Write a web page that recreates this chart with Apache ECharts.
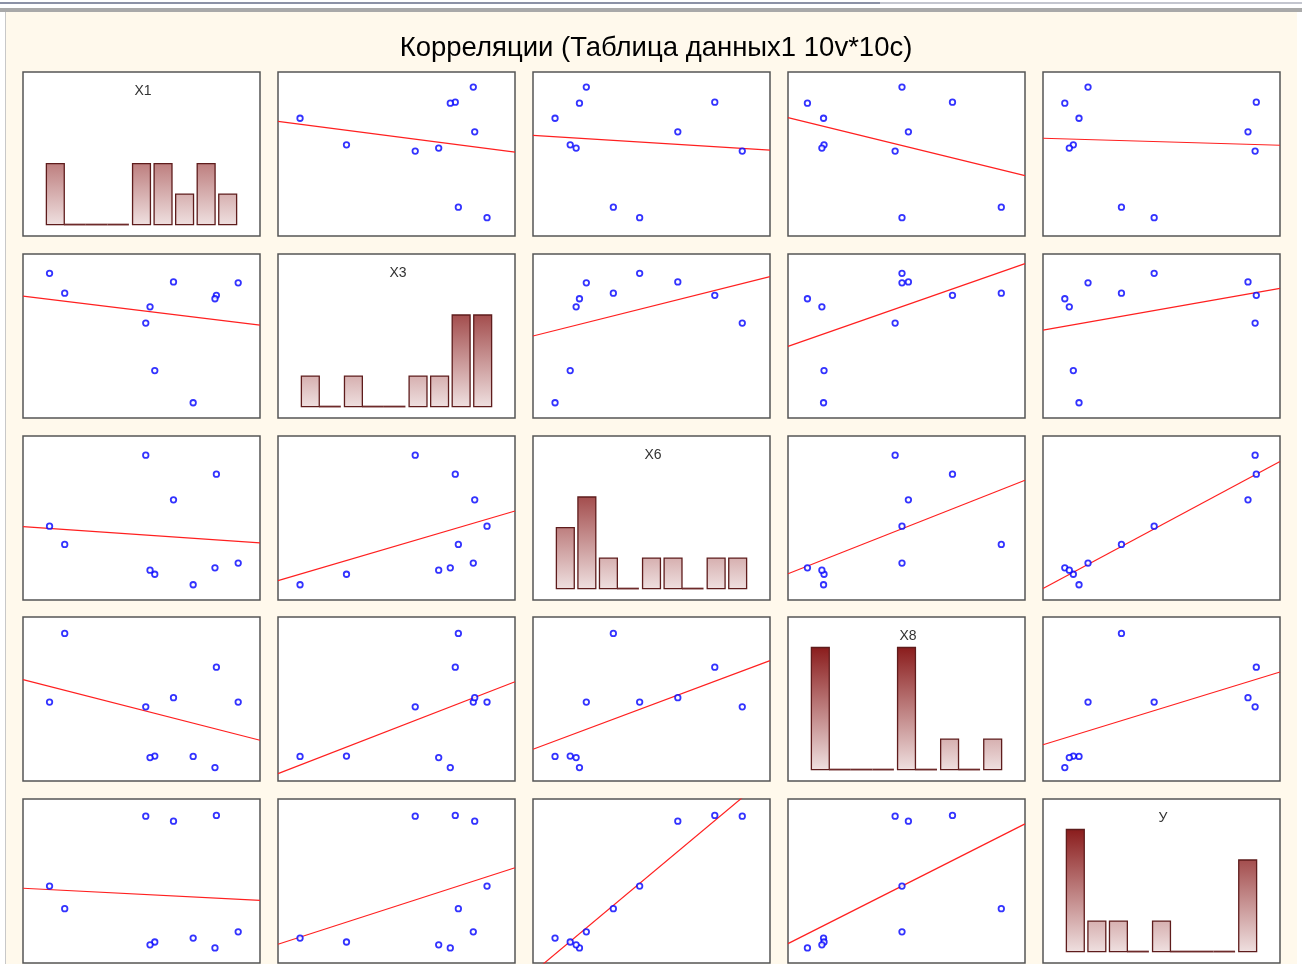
<!DOCTYPE html>
<html>
<head>
<meta charset="utf-8">
<title>Корреляции</title>
<script src="https://cdn.jsdelivr.net/npm/echarts@6/dist/echarts.min.js"></script>
<style>
  html, body { margin: 0; padding: 0; background: #fff; }
  #main { width: 1302px; height: 964px; }
</style>
</head>
<body>
<div id="main"></div>
<script>
const varNames = ['X1', 'X3', 'X6', 'X8', 'У']
const x1 = [90.8, 81.6, 81.0, 71.8, 63.5, 55.6, 53.6, 51.8, 17.6, 11.2]
const x3 = [82.4, 74.8, 72.7, 9.3, 83.0, 28.9, 67.8, 57.9, 76.1, 88.2]
const x6 = [22.5, 76.7, 19.6, 9.3, 61.1, 15.7, 18.2, 88.3, 33.9, 45.0]
const x8 = [48.1, 69.4, 8.2, 15.0, 50.8, 15.2, 14.3, 45.2, 90.0, 48.1]
const yv = [19.0, 90.0, 9.2, 15.2, 86.5, 12.8, 11.1, 89.5, 33.1, 46.9]

// histogram counts on the diagonal (9 bins each)
const histX1 = [2, 0, 0, 0, 2, 2, 1, 2, 1]
const histX3 = [1, 0, 1, 0, 0, 1, 1, 3, 3]
const histX6 = [2, 3, 1, 0, 1, 1, 0, 1, 1]
const histX8 = [4, 0, 0, 0, 4, 0, 1, 0, 1]
const histY = [4, 1, 1, 0, 1, 0, 0, 0, 3]

const cols = [x1, x3, x6, x8, yv]
const hists = [histX1, histX3, histX6, histX8, histY]

const chart = echarts.init(document.getElementById('main'))

const panelW = 237, panelH = 164
const lefts = [23, 278, 533, 788, 1043]
const tops = [72, 254, 436, 617, 799]
const light = '#efe0e0', dark = '#8a1c1c'
const gap = 0.085

// least squares fit of ys on xs
const fit = function (xs, ys) {
    const n = xs.length
    const mx = xs.reduce((a, b) => a + b, 0) / n
    const my = ys.reduce((a, b) => a + b, 0) / n
    let sxy = 0, sxx = 0
    xs.forEach((x, k) => {
        sxy += (x - mx) * (ys[k] - my)
        sxx += (x - mx) * (x - mx)
    })
    const m = sxy / sxx
    return [m, my - m * mx]
}

const renderBin = function (params, api) {
    const i = api.value(0), c = api.value(1)
    if (c > 0) {
        const p0 = api.coord([i + gap, c])
        const p1 = api.coord([i + 1 - gap, 0])
        const top = echarts.color.lerp(Math.min(c / 4, 1), [light, dark])
        return {
            type: 'rect',
            shape: { x: p0[0], y: p0[1], width: p1[0] - p0[0], height: p1[1] - p0[1] },
            style: {
                fill: new echarts.graphic.LinearGradient(0, 0, 0, 1, [
                    { offset: 0, color: top },
                    { offset: 1, color: light }
                ]),
                stroke: '#5e1c1c',
                lineWidth: 1.3
            }
        }
    }
    const a = api.coord([i - gap, 0])
    const b = api.coord([i + 1 - gap, 0])
    return {
        type: 'line',
        shape: { x1: a[0], y1: a[1], x2: b[0], y2: b[1] },
        style: { stroke: '#6e2a2a', lineWidth: 1.8 }
    }
}

const grid = [], xAxis = [], yAxis = [], series = []
const title = [{
    text: 'Корреляции (Таблица данных1 10v*10c)',
    left: 651,
    top: 29,
    textAlign: 'center',
    textStyle: { fontFamily: 'Liberation Sans', fontSize: 27.5, fontWeight: 'normal', color: '#000' }
}]

for (let r = 0; r < 5; r++) {
    for (let c = 0; c < 5; c++) {
        const g = grid.length
        grid.push({
            left: lefts[c], top: tops[r], width: panelW, height: panelH,
            show: true, backgroundColor: '#fff', borderColor: '#555', borderWidth: 1.5
        })
        if (r === c) {
            xAxis.push({ gridIndex: g, type: 'value', min: -1, max: 10, show: false })
            yAxis.push({ gridIndex: g, type: 'value', min: -0.375, max: 5, show: false })
            series.push({
                type: 'custom',
                xAxisIndex: g, yAxisIndex: g,
                renderItem: renderBin,
                encode: { x: 0, y: 1 },
                data: hists[r].map((v, i) => [i, v])
            })
            title.push({
                text: varNames[r],
                left: lefts[c] + panelW / 2 - 3.5,
                top: tops[r] + 7,
                textAlign: 'center',
                textStyle: { fontFamily: 'Liberation Sans', fontSize: 14, fontWeight: 'normal', color: '#333' }
            })
        } else {
            xAxis.push({ gridIndex: g, type: 'value', min: 0, max: 100, show: false })
            yAxis.push({ gridIndex: g, type: 'value', min: 0, max: 100, show: false })
            const xs = cols[c], ys = cols[r]
            const [m, b] = fit(xs, ys)
            series.push({
                type: 'line',
                xAxisIndex: g, yAxisIndex: g,
                data: [[0, b], [100, b + 100 * m]],
                showSymbol: false,
                clip: true,
                lineStyle: { color: '#ff2020', width: 1.2 },
                z: 2
            })
            series.push({
                type: 'scatter',
                xAxisIndex: g, yAxisIndex: g,
                data: xs.map((x, k) => [x, ys[k]]),
                symbol: 'circle',
                symbolSize: 5.5,
                itemStyle: { color: '#fff', borderColor: '#0000ff', borderWidth: 1.8 },
                z: 3
            })
        }
    }
}

chart.setOption({
    animation: false,
    backgroundColor: '#fff',
    graphic: [
        { type: 'rect', z: -10, shape: { x: 6, y: 12, width: 1291, height: 952 }, style: { fill: '#fff9ec' } },
        { type: 'rect', z: -9, shape: { x: 0, y: 2, width: 880, height: 2 }, style: { fill: '#8c92a6' } },
        { type: 'rect', z: -9, shape: { x: 880, y: 2, width: 422, height: 2 }, style: { fill: '#c4c6cf' } },
        { type: 'rect', z: -9, shape: { x: 0, y: 8, width: 1302, height: 4 }, style: { fill: '#a9a9a9' } },
        { type: 'rect', z: -9, shape: { x: 5, y: 12, width: 1, height: 952 }, style: { fill: '#c8c8c8' } }
    ],
    title,
    grid,
    xAxis,
    yAxis,
    series
})
</script>
</body>
</html>
